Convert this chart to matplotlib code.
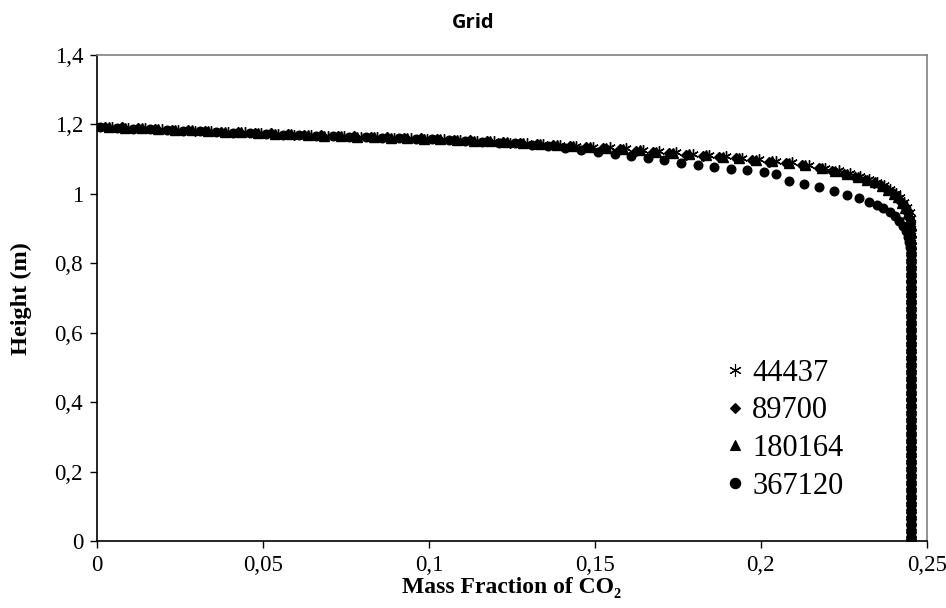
import matplotlib
matplotlib.use("Agg")
import matplotlib.pyplot as plt
from matplotlib.lines import Line2D

# grid sizes (legend labels)
labels = ["44437", "89700", "180164", "367120"]

# 44437 cells
x_44437 = [0.0045, 0.0095, 0.0145, 0.0195, 0.0245, 0.0295, 0.0345, 0.0395, 0.0445, 0.0495,
           0.0545, 0.0595, 0.0645, 0.0695, 0.0745, 0.0795, 0.0845, 0.0895, 0.0945, 0.0995,
           0.1045, 0.1095, 0.1145, 0.1195, 0.1245, 0.1295, 0.1345, 0.1395, 0.1445, 0.1495,
           0.1545, 0.1595, 0.1645, 0.1695, 0.1745, 0.1795, 0.1845, 0.1895, 0.1945, 0.1995,
           0.2045, 0.2095, 0.2145, 0.2195,
           0.2235, 0.2270, 0.2300, 0.2327, 0.2351, 0.2372, 0.2391, 0.2407, 0.2421, 0.2433,
           0.2442, 0.2449, 0.2453, 0.2454, 0.2454, 0.2454, 0.2453]
y_44437 = [1.193, 1.191, 1.189, 1.187, 1.184, 1.182, 1.180, 1.178, 1.177, 1.175,
           1.173, 1.171, 1.170, 1.168, 1.167, 1.165, 1.164, 1.162, 1.161, 1.159,
           1.157, 1.155, 1.153, 1.151, 1.148, 1.146, 1.143, 1.140, 1.137, 1.135,
           1.134, 1.131, 1.127, 1.124, 1.120, 1.116, 1.112, 1.108, 1.104, 1.100,
           1.096, 1.091, 1.083, 1.075,
           1.068, 1.060, 1.052, 1.044, 1.035, 1.025, 1.015, 1.004, 0.992, 0.978,
           0.963, 0.948, 0.930, 0.912, 0.893, 0.874, 0.857]

# 89700 cells
x_89700 = [0.0025, 0.0075, 0.0125, 0.0175, 0.0225, 0.0275, 0.0325, 0.0375, 0.0425, 0.0475,
           0.0525, 0.0575, 0.0625, 0.0675, 0.0725, 0.0775, 0.0825, 0.0875, 0.0925, 0.0975,
           0.1025, 0.1075, 0.1125, 0.1175, 0.1225, 0.1275, 0.1325, 0.1375, 0.1425, 0.1475,
           0.1525, 0.1575, 0.1625, 0.1675, 0.1725, 0.1775, 0.1825, 0.1875, 0.1925, 0.1975,
           0.2025, 0.2075, 0.2125, 0.2175,
           0.2215, 0.2250, 0.2285, 0.2315, 0.2340, 0.2362, 0.2382, 0.2398, 0.2412, 0.2424,
           0.2435, 0.2443, 0.2448, 0.2451, 0.2452, 0.2452, 0.2452]
y_89700 = [1.194, 1.192, 1.190, 1.187, 1.185, 1.183, 1.181, 1.179, 1.177, 1.176,
           1.174, 1.172, 1.170, 1.169, 1.167, 1.166, 1.164, 1.163, 1.161, 1.160,
           1.158, 1.156, 1.154, 1.151, 1.149, 1.147, 1.144, 1.141, 1.138, 1.135,
           1.131, 1.128, 1.125, 1.121, 1.117, 1.113, 1.110, 1.106, 1.102, 1.098,
           1.093, 1.088, 1.082, 1.074,
           1.067, 1.058, 1.050, 1.041, 1.032, 1.024, 1.012, 1.002, 0.991, 0.976,
           0.961, 0.946, 0.930, 0.912, 0.895, 0.875, 0.860]

# 180164 cells
x_180164 = [0.0035, 0.0085, 0.0135, 0.0185, 0.0235, 0.0285, 0.0335, 0.0385, 0.0435, 0.0485,
            0.0535, 0.0585, 0.0635, 0.0685, 0.0735, 0.0785, 0.0835, 0.0885, 0.0935, 0.0985,
            0.1035, 0.1085, 0.1135, 0.1185, 0.1235, 0.1285, 0.1335, 0.1385, 0.1435, 0.1485,
            0.1535, 0.1585, 0.1635, 0.1685, 0.1735, 0.1785, 0.1835, 0.1885, 0.1935, 0.1985,
            0.2035, 0.2085, 0.2135, 0.2185,
            0.2225, 0.2260, 0.2292, 0.2320, 0.2345, 0.2366, 0.2385, 0.2401, 0.2414, 0.2426,
            0.2436, 0.2444, 0.2449, 0.2452, 0.2452, 0.2452, 0.2452]
y_180164 = [1.193, 1.191, 1.189, 1.187, 1.185, 1.183, 1.181, 1.179, 1.177, 1.175,
            1.173, 1.172, 1.170, 1.168, 1.167, 1.165, 1.164, 1.162, 1.161, 1.159,
            1.157, 1.155, 1.153, 1.151, 1.149, 1.147, 1.144, 1.141, 1.138, 1.135,
            1.133, 1.129, 1.126, 1.122, 1.119, 1.115, 1.111, 1.107, 1.103, 1.099,
            1.095, 1.090, 1.082, 1.074,
            1.066, 1.058, 1.050, 1.041, 1.033, 1.022, 1.012, 1.001, 0.990, 0.975,
            0.960, 0.945, 0.928, 0.910, 0.890, 0.870, 0.855]

# 367120 cells (note the gap near 0.206)
x_367120 = [0.001, 0.006, 0.011, 0.016, 0.021, 0.026, 0.031, 0.036, 0.041, 0.046,
            0.051, 0.056, 0.061, 0.066, 0.071, 0.076, 0.081, 0.086, 0.091, 0.096,
            0.101, 0.106, 0.111, 0.116, 0.121, 0.126, 0.131, 0.136, 0.141, 0.146,
            0.151, 0.156, 0.161, 0.166, 0.171, 0.176, 0.181, 0.186, 0.191, 0.196,
            0.201, 0.2045,
            0.2085, 0.2130, 0.2175, 0.2220, 0.2260, 0.2295, 0.2325, 0.2350, 0.2370, 0.2390,
            0.2405, 0.2418, 0.2428, 0.2437, 0.2443, 0.2448, 0.2451]
y_367120 = [1.193, 1.190, 1.188, 1.186, 1.184, 1.182, 1.180, 1.178, 1.176, 1.174,
            1.172, 1.171, 1.169, 1.167, 1.166, 1.164, 1.163, 1.161, 1.160, 1.158,
            1.157, 1.154, 1.152, 1.150, 1.148, 1.146, 1.142, 1.138, 1.133, 1.127,
            1.121, 1.115, 1.109, 1.103, 1.097, 1.090, 1.084, 1.078, 1.073, 1.068,
            1.062, 1.057,
            1.037, 1.028, 1.019, 1.009, 0.998, 0.988, 0.978, 0.968, 0.959, 0.948,
            0.936, 0.922, 0.907, 0.892, 0.877, 0.862, 0.848]

# vertical part along the wall, shared by all grids
wall_x = 0.2452
wall_y = [0.005, 0.025, 0.045, 0.065, 0.085, 0.105, 0.125, 0.145, 0.165, 0.185,
          0.205, 0.225, 0.245, 0.265, 0.285, 0.305, 0.325, 0.345, 0.365, 0.385,
          0.405, 0.425, 0.445, 0.465, 0.485, 0.505, 0.525, 0.545, 0.565, 0.585,
          0.605, 0.625, 0.645, 0.665, 0.685, 0.705, 0.725, 0.745, 0.765, 0.785,
          0.805, 0.825, 0.845]

xticks = [0, 0.05, 0.1, 0.15, 0.2, 0.25]
xtick_labels = ["0", "0,05", "0,1", "0,15", "0,2", "0,25"]
yticks = [0, 0.2, 0.4, 0.6, 0.8, 1.0, 1.2, 1.4]
ytick_labels = ["0", "0,2", "0,4", "0,6", "0,8", "1", "1,2", "1,4"]

serif = ["Liberation Serif", "DejaVu Serif"]
markers = [(6, 2, 0), "D", "^", "o"]
sizes = [7.5, 4.6, 6.5, 6.2]

fig = plt.figure(figsize=(9.46, 6.08), dpi=100)
ax = fig.add_axes([0.1025, 0.110, 0.877, 0.7995])

series = [(x_44437, y_44437), (x_89700, y_89700), (x_180164, y_180164), (x_367120, y_367120)]
order = [3, 1, 2, 0]
for i in order:
    xs, ys = series[i]
    ax.plot(list(xs) + [wall_x] * len(wall_y), list(ys) + wall_y, linestyle="none",
            marker=markers[i], markersize=sizes[i], color="black",
            markeredgecolor="black", markeredgewidth=1.0, zorder=3 + i)

ax.set_xlim(0, 0.25)
ax.set_ylim(0, 1.4)
ax.set_xticks(xticks)
ax.set_xticklabels(xtick_labels, family=serif, fontsize=16.5)
ax.set_yticks(yticks)
ax.set_yticklabels(ytick_labels, family=serif, fontsize=16.5)
ax.tick_params(direction="out", length=5, width=1, color="black", pad=5)

for side in ["left", "bottom"]:
    ax.spines[side].set_color("black")
    ax.spines[side].set_linewidth(1.2)
for side in ["top", "right"]:
    ax.spines[side].set_color("#808080")
    ax.spines[side].set_linewidth(1.2)

ax.set_xlabel("Mass Fraction of CO₂", family=serif, fontsize=17, fontweight="bold", labelpad=1)
ax.set_ylabel("Height (m)", family=serif, fontsize=17.5, fontweight="bold", labelpad=16)
fig.text(0.5, 0.962, "Grid", ha="center", va="center", family=["Open Sans", "DejaVu Sans"],
         fontsize=14.5, fontweight="bold")

handles = [Line2D([], [], linestyle="none", marker=markers[i], markersize=sizes[i] * 1.2,
                  color="black", markeredgewidth=0.8) for i in range(4)]
ax.legend(handles, labels, loc="upper left", bbox_to_anchor=(0.74, 0.40),
          frameon=False, prop={"family": serif, "size": 22},
          handlelength=0.8, handletextpad=0.15, labelspacing=0.28, borderaxespad=0)

fig.savefig("out.png", dpi=100)
